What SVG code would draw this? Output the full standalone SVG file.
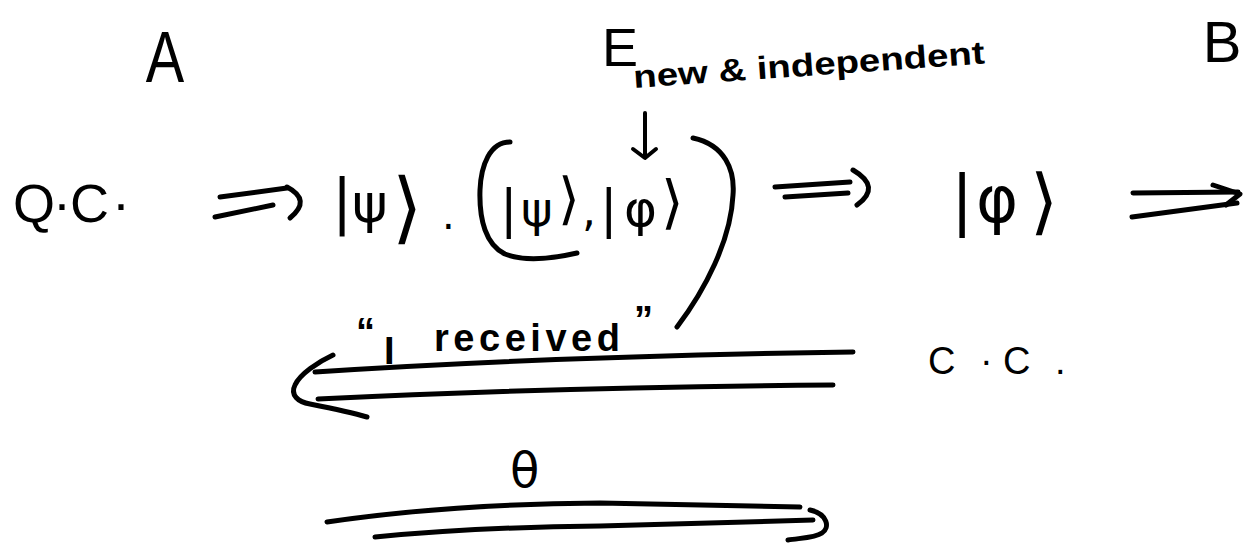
<svg xmlns="http://www.w3.org/2000/svg" width="1250" height="544" viewBox="0 0 1250 544">
<style>
  .t { font-family: "DejaVu Sans", "Liberation Sans", sans-serif; fill: #000; }
  .lbl { font-family: "Liberation Sans", "DejaVu Sans", sans-serif; fill: #000; }
  .stroke { fill: none; stroke: #000; stroke-width: 5; stroke-linecap: round; stroke-linejoin: round; }
  .thin { fill: none; stroke: #000; stroke-width: 4; stroke-linecap: round; stroke-linejoin: round; }
</style>
<rect width="1250" height="544" fill="#fff"/>

<g id="party-A"><text class="lbl" x="165" y="82" font-size="72" text-anchor="middle" transform="translate(165 0) scale(0.8 1) translate(-165 0)">A</text></g>
<g id="party-E"><text class="lbl" x="620" y="66" font-size="54" text-anchor="middle">E</text></g>
<g id="party-B"><text class="lbl" x="1222" y="62" font-size="58" text-anchor="middle">B</text></g>

<g id="note-new-independent">
  <text class="lbl" x="634" y="88" font-size="32" font-weight="bold" textLength="352" lengthAdjust="spacingAndGlyphs" transform="rotate(-4 634 88)">new &amp; independent</text>
</g>

<g id="node-QC">
  <text class="lbl" y="222" font-size="54"><tspan x="13">Q</tspan><tspan x="53">·</tspan><tspan x="70">C</tspan><tspan x="112">·</tspan></text>
</g>

<g id="node-psi">
  <text class="t" x="332" y="222" font-size="60">|</text>
  <text class="t" x="352" y="222" font-size="54">ψ</text>
  <text class="t" x="392" y="234" font-size="78">⟩</text>
  <text class="t" x="442" y="229" font-size="40">.</text>
</g>

<g id="node-pair">
  <text class="t" x="500" y="226" font-size="52">|</text>
  <text class="t" x="521" y="226" font-size="48">ψ</text>
  <text class="t" x="558" y="218" font-size="56">⟩</text>
  <text class="t" x="582" y="226" font-size="44">,</text>
  <text class="t" x="600" y="226" font-size="52">|</text>
  <text class="t" x="624" y="226" font-size="50">φ</text>
  <text class="t" x="661" y="222" font-size="58">⟩</text>
</g>

<g id="node-phi">
  <text class="t" x="951" y="222" font-size="66">|</text>
  <text class="t" x="976" y="222" font-size="64">φ</text>
  <text class="t" x="1030" y="226" font-size="72">⟩</text>
</g>

<g id="node-CC">
  <text class="lbl" y="374" font-size="38"><tspan x="928">C</tspan><tspan x="980">·</tspan><tspan x="1003">C</tspan><tspan x="1055">.</tspan></text>
</g>

<g id="label-received">
  <text class="lbl" font-size="38" font-weight="bold"><tspan x="356" y="345">“</tspan><tspan x="384" y="364">I</tspan><tspan x="434" y="351" textLength="186" lengthAdjust="spacing">received</tspan><tspan x="634" y="333">”</tspan></text>
</g>

<g id="label-theta">
  <text class="t" x="510" y="487" font-size="48">θ</text>
</g>

<g id="connectors">
  <path class="stroke" d="M220,197 L287,188"/>
  <path class="stroke" d="M215,217 L273,205"/>
  <path class="stroke" d="M287,187 Q312,200 290,218"/>
  <path class="stroke" d="M510,142 C490,142 481,165 480,190 C479,220 486,245 505,254 C525,262 555,258 577,253"/>
  <path class="stroke" d="M693,138 C725,145 735,170 733,195 C731,240 705,290 677,327"/>
  <path class="thin" d="M645,113 L645,157"/>
  <path class="thin" d="M633,149 L645,158 L656,149"/>
  <path class="stroke" d="M775,187 L850,182"/>
  <path class="stroke" d="M785,197 L848,193"/>
  <path class="stroke" d="M853,170 Q882,187 857,205"/>
  <path class="stroke" d="M1133,193 L1238,192"/>
  <path class="stroke" d="M1132,217 L1237,203"/>
  <path class="stroke" d="M1213,185 L1240,194 L1226,205"/>
  <path class="stroke" d="M315,372 Q560,356 853,352"/>
  <path class="stroke" d="M318,399 Q560,387 833,385"/>
  <path class="stroke" d="M333,355 C318,362 300,374 295,385 C290,395 298,402 310,404 C330,408 350,412 367,417"/>
  <path class="stroke" d="M327,522 Q450,504 600,503 L800,507"/>
  <path class="stroke" d="M375,537 Q480,527 600,526 L813,520"/>
  <path class="stroke" d="M810,510 C828,514 830,528 822,533 C815,538 800,538 788,540"/>
</g>
</svg>
